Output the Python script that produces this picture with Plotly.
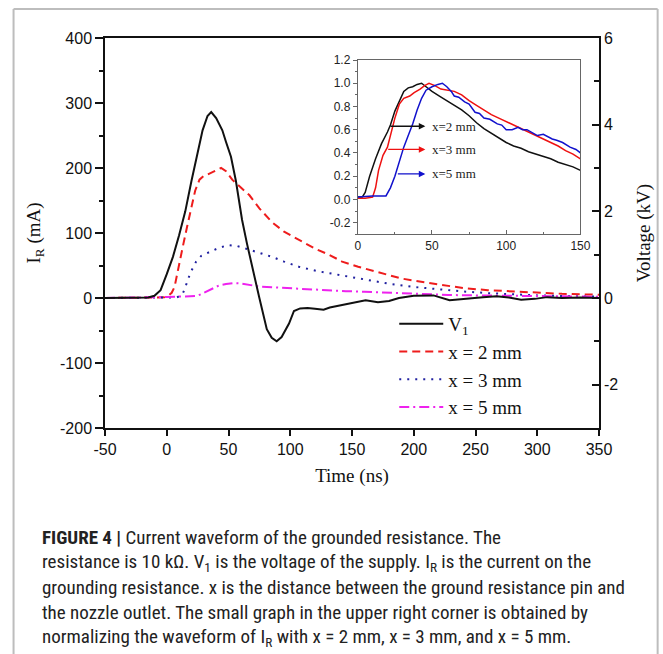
import plotly.graph_objects as go

# ---------------- data ----------------
# V1 supply voltage (kV), right axis
t_v1 = [-50, -30, -20, -15, -10, -5, 0, 5, 10, 15, 20, 25, 29, 33, 36, 40, 45, 48, 52, 56,
        61, 65, 69, 75, 81, 85, 89, 93, 99, 103, 108, 114, 120, 127, 132, 137, 143, 151, 161,
        171, 180, 188, 200, 216, 229, 238, 246, 256, 267, 277, 287, 298, 308, 320, 335, 350]
v1_kv = [0, 0, 0, 0.01, 0.05, 0.18, 0.55, 0.95, 1.45, 2.0, 2.7, 3.35, 3.87, 4.2, 4.29, 4.15,
         3.87, 3.6, 3.26, 2.7, 1.8, 1.25, 0.72, 0.0, -0.72, -0.92, -1.0, -0.9, -0.59, -0.3,
         -0.24, -0.23, -0.25, -0.27, -0.22, -0.19, -0.17, -0.12, -0.05, -0.1, -0.07, 0.0,
         0.05, 0.06, -0.05, -0.03, 0.0, 0.02, 0.04, 0.01, -0.04, -0.02, 0.02, 0.0, 0.01, 0.0]

# I_R for x = 2 mm (mA)
t_x2 = [-50, -10, -2, 2, 4, 6.3, 9, 13, 16.5, 19.8, 23, 26.5, 30, 33, 38, 44, 48, 53, 60, 67,
        75, 85, 95, 107, 120, 131, 142, 155, 174, 190, 209, 225, 241, 260, 280, 295, 320, 350]
i_x2 = [0, 0, 1, 4.6, 8, 17, 40, 79, 110, 140, 165, 182, 188, 190, 195, 200, 195, 182, 170,
        158, 138, 117, 102, 89, 76, 67, 56, 48, 38, 30, 24, 19, 15, 12, 10, 8, 6.5, 5]

# I_R for x = 3 mm (mA)
t_x3 = [-50, 0, 8, 11, 13, 15, 17, 20, 23.8, 28, 34.5, 42, 50, 57, 64, 75, 85, 95, 107, 123,
        140, 160, 180, 200, 220, 240, 260, 280, 300, 325, 350]
i_x3 = [0, 0, 1, 3, 7, 16, 28, 42, 56, 65, 71, 77, 81.5, 80, 76, 70, 63.5, 56, 48, 41, 35,
        28, 22, 17, 13, 10, 7.5, 5.5, 4, 3, 2]

# I_R for x = 5 mm (mA)
t_x5 = [-50, -20, 0, 15, 24, 28, 33, 37, 42, 48, 55, 60, 67, 75, 85, 100, 115, 130, 145, 160,
        180, 200, 228, 250, 275, 300, 325, 350]
i_x5 = [0, 0.5, 1.5, 2.5, 3, 6, 11, 15, 19, 21.5, 23, 22.5, 20, 17.5, 16.5, 15, 13, 11.5,
        10.5, 9.7, 8, 6.7, 4.6, 4, 3.5, 3, 2.5, 2]

# inset: normalized I_R
tn_a = [0, 3, 5, 8, 12, 16, 20, 22, 25, 28, 31, 34, 37, 40, 43, 46, 50, 55, 60, 65, 70, 75,
        80, 85, 90, 95, 100, 105, 110, 115, 120, 125, 130, 135, 140, 145, 150]
n_a = [0.02, 0.02, 0.06, 0.2, 0.35, 0.48, 0.58, 0.64, 0.76, 0.85, 0.93, 0.96, 0.97, 0.99,
       1.0, 0.97, 0.93, 0.89, 0.85, 0.81, 0.77, 0.72, 0.66, 0.61, 0.57, 0.53, 0.49, 0.46,
       0.44, 0.41, 0.39, 0.37, 0.35, 0.32, 0.3, 0.28, 0.25]
tn_b = [0, 5, 10, 12, 14, 17, 20, 22, 25, 28, 31, 35, 38, 42, 45, 48, 52, 56, 60, 65, 70, 75,
        80, 85, 90, 95, 100, 105, 110, 115, 120, 125, 130, 135, 140, 145, 150]
n_b = [0.01, 0.01, 0.02, 0.1, 0.25, 0.38, 0.45, 0.55, 0.7, 0.82, 0.87, 0.89, 0.92, 0.95,
       0.98, 1.0, 0.98, 0.95, 0.94, 0.93, 0.9, 0.85, 0.81, 0.77, 0.73, 0.7, 0.67, 0.64,
       0.61, 0.58, 0.55, 0.52, 0.49, 0.46, 0.42, 0.39, 0.35]
tn_c = [0, 10, 19, 22, 25, 28, 31, 34, 37, 40, 43, 46, 50, 54, 57, 60, 63, 65, 68, 72, 75,
        79, 82, 85, 89, 94, 97, 100, 104, 108, 111, 114, 118, 121, 125, 128, 131, 134, 138,
        143, 147, 150]
n_c = [0.02, 0.03, 0.03, 0.1, 0.2, 0.33, 0.45, 0.55, 0.65, 0.77, 0.87, 0.94, 0.97, 0.99,
       1.0, 0.97, 0.93, 0.89, 0.88, 0.84, 0.82, 0.75, 0.74, 0.7, 0.69, 0.65, 0.64, 0.6,
       0.6, 0.62, 0.6, 0.6, 0.57, 0.55, 0.56, 0.54, 0.52, 0.51, 0.49, 0.45, 0.43, 0.4]

# tick labels (hyphen-minus as in the reference)
x_ticks = [-50, 0, 50, 100, 150, 200, 250, 300, 350]
x_ticktext = ["-50", "0", "50", "100", "150", "200", "250", "300", "350"]
y_ticks = [-200, -100, 0, 100, 200, 300, 400]
y_ticktext = ["-200", "-100", "0", "100", "200", "300", "400"]
y2_ticks = [-2, 0, 2, 4, 6]
y2_ticktext = ["-2", "0", "2", "4", "6"]
in_x_ticks = [0, 50, 100, 150]
in_x_ticktext = ["0", "50", "100", "150"]
in_y_ticks = [-0.2, 0.0, 0.2, 0.4, 0.6, 0.8, 1.0, 1.2]
in_y_ticktext = ["-0.2", "0.0", "0.2", "0.4", "0.6", "0.8", "1.0", "1.2"]

inset_labels = ["x=2 mm", "x=3 mm", "x=5 mm"]
inset_label_y = [0.63, 0.43, 0.22]
inset_arrow_tail = [21, 19.5, 26]
inset_arrow_head = 45.5
inset_label_x = 49

legend_names = ["V<sub>1</sub>", "x = 2 mm", "x = 3 mm", "x = 5 mm"]

caption_lines = [
    "<b>FIGURE 4 |</b> Current waveform of the grounded resistance. The",
    "resistance is 10 kΩ. V<sub>1</sub> is the voltage of the supply. I<sub>R</sub> is the current on the",
    "grounding resistance. x is the distance between the ground resistance pin and",
    "the nozzle outlet. The small graph in the upper right corner is obtained by",
    "normalizing the waveform of I<sub>R</sub> with x = 2 mm, x = 3 mm, and x = 5 mm.",
]

# ---------------- figure ----------------
W, H = 663, 654
L, R, T, B = 105, 61, 38, 226
pw, ph = W - L - R, H - T - B


def px(x):
    return (x - L) / pw


def py(y):
    return (H - B - y) / ph


SERIF = "Liberation Serif, Times New Roman, serif"
SANS = "Liberation Sans, Arial, sans-serif"
NARROW = "Liberation Sans Narrow, Arial Narrow, Roboto Condensed, sans-serif"

fig = go.Figure()
fig.add_trace(go.Scatter(x=t_v1, y=v1_kv, yaxis="y2", mode="lines", name=legend_names[0],
                         line=dict(color="#111111", width=2)))
fig.add_trace(go.Scatter(x=t_x2, y=i_x2, mode="lines", name=legend_names[1],
                         line=dict(color="#ee1c1c", width=2, dash="8px,5px")))
fig.add_trace(go.Scatter(x=t_x3, y=i_x3, mode="lines", name=legend_names[2],
                         line=dict(color="#2020a0", width=2, dash="2px,6px")))
fig.add_trace(go.Scatter(x=t_x5, y=i_x5, mode="lines", name=legend_names[3],
                         line=dict(color="#ee22ee", width=2, dash="10px,4px,2px,4px")))

# inset traces
for tx, ny, col in [(tn_a, n_a, "#111111"), (tn_b, n_b, "#ee1111"), (tn_c, n_c, "#1111cc")]:
    fig.add_trace(go.Scatter(x=tx, y=ny, xaxis="x2", yaxis="y3", mode="lines",
                             showlegend=False, line=dict(color=col, width=1.5)))

annotations = []
for lab, ly, tail, col in zip(inset_labels, inset_label_y, inset_arrow_tail,
                              ["#111111", "#ee1111", "#1111cc"]):
    annotations.append(dict(x=inset_arrow_head, y=ly, ax=tail, ay=ly, xref="x2", yref="y3",
                            axref="x2", ayref="y3", text="", showarrow=True, arrowhead=2,
                            arrowsize=1, arrowwidth=1.3, arrowcolor=col))
    annotations.append(dict(x=inset_label_x, y=ly, xref="x2", yref="y3", text=lab,
                            showarrow=False, xanchor="left", yanchor="middle",
                            font=dict(family=SERIF, size=13, color="#222222")))

cap_y = [537, 562, 587, 612, 637]
for line, yy in zip(caption_lines, cap_y):
    annotations.append(dict(x=px(40), y=py(yy), xref="paper", yref="paper", text=line,
                            showarrow=False, xanchor="left", yanchor="middle",
                            font=dict(family=NARROW, size=19, color="#222222")))

frame = dict(color="#bdbdbd", width=2)
shapes = [
    dict(type="line", xref="paper", yref="paper", x0=px(13), x1=px(13), y0=py(9), y1=py(700), line=frame),
    dict(type="line", xref="paper", yref="paper", x0=px(13), x1=px(661), y0=py(9), y1=py(9), line=frame),
    dict(type="line", xref="paper", yref="paper", x0=px(661), x1=px(661), y0=py(9), y1=py(700), line=frame),
]

inset_x = [px(359.3), px(583.3)]
inset_y = [py(234.3), py(60)]

fig.update_layout(
    width=W, height=H, margin=dict(l=L, r=R, t=T, b=B),
    paper_bgcolor="white", plot_bgcolor="white",
    showlegend=True,
    legend=dict(x=px(396), y=py(305), xanchor="left", yanchor="top",
                font=dict(family=SERIF, size=19, color="#111111"),
                bgcolor="rgba(0,0,0,0)", itemwidth=44, tracegroupgap=0),
    xaxis=dict(range=[-50, 350], tickvals=x_ticks, ticktext=x_ticktext, showline=True,
               mirror=True, linecolor="#111111", linewidth=1.5, ticks="outside", ticklen=6,
               tickcolor="#111111", tickwidth=1.5, showgrid=False, zeroline=False,
               tickfont=dict(family=SANS, size=16, color="#111111"),
               title=dict(text="Time (ns)", font=dict(family=SERIF, size=19, color="#111111"),
                          standoff=12)),
    yaxis=dict(range=[-200, 400], tickvals=y_ticks, ticktext=y_ticktext, showline=True,
               linecolor="#111111", linewidth=1.5, ticks="outside", ticklen=8,
               tickcolor="#111111", tickwidth=1.5,
               minor=dict(dtick=50, ticks="outside", ticklen=4, tickcolor="#111111"),
               showgrid=False, zeroline=False,
               tickfont=dict(family=SANS, size=16, color="#111111"),
               title=dict(text="I<sub>R</sub> (mA)", font=dict(family=SERIF, size=19, color="#111111"),
                          standoff=14)),
    yaxis2=dict(range=[-3, 6], tickvals=y2_ticks, ticktext=y2_ticktext, overlaying="y",
                side="right", anchor="x", showline=True, linecolor="#111111", linewidth=1.5,
                ticks="inside", ticklen=7, tickcolor="#111111", tickwidth=1.5,
                minor=dict(dtick=1, tick0=0, ticks="inside", ticklen=5, tickcolor="#111111"),
                showgrid=False, zeroline=False,
                tickfont=dict(family=SANS, size=16, color="#111111"),
                title=dict(text="Voltage (kV)", font=dict(family=SERIF, size=19, color="#111111"),
                           standoff=19)),
    xaxis2=dict(domain=inset_x, anchor="y3", range=[0, 150], tickvals=in_x_ticks,
                ticktext=in_x_ticktext, showline=True, mirror=True, linecolor="#666666",
                linewidth=1, ticks="inside", ticklen=4, tickcolor="#666666",
                minor=dict(dtick=25, tick0=0, ticks="inside", ticklen=2, tickcolor="#666666"),
                showgrid=False, zeroline=False,
                tickfont=dict(family=SANS, size=12, color="#222222")),
    yaxis3=dict(domain=inset_y, anchor="x2", range=[-0.3, 1.2], tickvals=in_y_ticks,
                ticktext=in_y_ticktext, showline=True, mirror=True, linecolor="#666666",
                linewidth=1, ticks="outside", ticklen=4, tickcolor="#666666",
                minor=dict(dtick=0.1, tick0=0, ticks="outside", ticklen=2, tickcolor="#666666"),
                showgrid=False, zeroline=False,
                tickfont=dict(family=SANS, size=12, color="#222222")),
    annotations=annotations,
    shapes=shapes,
)

fig.write_html("out.html", config={"displayModeBar": False},
               post_script="document.body.style.margin='0px';")
